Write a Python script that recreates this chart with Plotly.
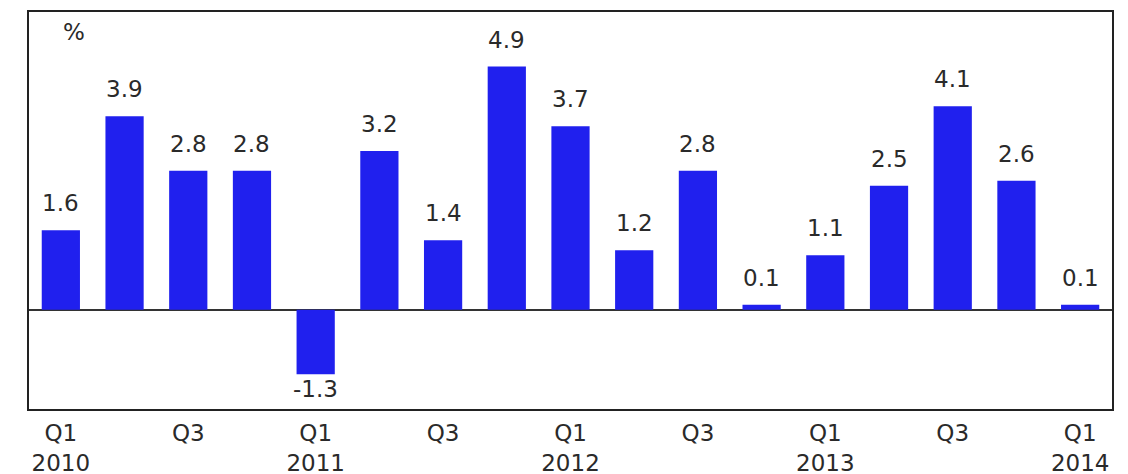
import plotly.graph_objects as go

quarters = ["Q1 2010", "Q2 2010", "Q3 2010", "Q4 2010",
            "Q1 2011", "Q2 2011", "Q3 2011", "Q4 2011",
            "Q1 2012", "Q2 2012", "Q3 2012", "Q4 2012",
            "Q1 2013", "Q2 2013", "Q3 2013", "Q4 2013",
            "Q1 2014"]
values = [1.6, 3.9, 2.8, 2.8, -1.3, 3.2, 1.4, 4.9, 3.7, 1.2, 2.8, 0.1,
          1.1, 2.5, 4.1, 2.6, 0.1]
tick_idx = [0, 2, 4, 6, 8, 10, 12, 14, 16]
tick_labels = ["Q1<br>2010", "Q3", "Q1<br>2011", "Q3", "Q1<br>2012", "Q3",
               "Q1<br>2013", "Q3", "Q1<br>2014"]

BLUE = "#2020ee"
TXT = "#2a2a2a"
FONT = "DejaVu Sans"
FS = 23

x = list(range(len(values)))
fig = go.Figure(go.Bar(x=x, y=values, marker=dict(color=BLUE, line=dict(width=0)),
                       width=0.6, hoverinfo="skip"))

for i, v in zip(x, values):
    fig.add_annotation(x=i, y=v, text=f"{v:.1f}", showarrow=False,
                       yanchor="middle", yshift=27 if v >= 0 else -15,
                       font=dict(family=FONT, size=FS, color=TXT))

fig.add_annotation(xref="paper", yref="paper", x=0.0415, y=0.95, text="%",
                   showarrow=False, xanchor="center", yanchor="middle",
                   font=dict(family=FONT, size=23, color=TXT))

# page body has an 8px default margin, so the figure is sized/offset to compensate
fig.update_layout(
    width=1120, height=466,
    margin=dict(l=21, r=16, t=4, b=65, autoexpand=False),
    paper_bgcolor="white", plot_bgcolor="white",
    showlegend=False, bargap=0.4,
    font=dict(family=FONT, size=FS, color=TXT),
)
fig.update_xaxes(range=[-0.5, len(values) - 0.5], tickmode="array",
                 tickvals=tick_idx, ticktext=tick_labels, ticks="",
                 ticklabelstandoff=2, automargin=False,
                 showline=True, linecolor="#222", linewidth=2, mirror=True,
                 showgrid=False, zeroline=False,
                 tickfont=dict(family=FONT, size=FS, color=TXT))
fig.update_yaxes(range=[-2, 6], showticklabels=False, ticks="", automargin=False,
                 showline=True, linecolor="#222", linewidth=2, mirror=True,
                 showgrid=False, zeroline=True, zerolinecolor="#333",
                 zerolinewidth=1.5)

fig.write_html("out.html")
